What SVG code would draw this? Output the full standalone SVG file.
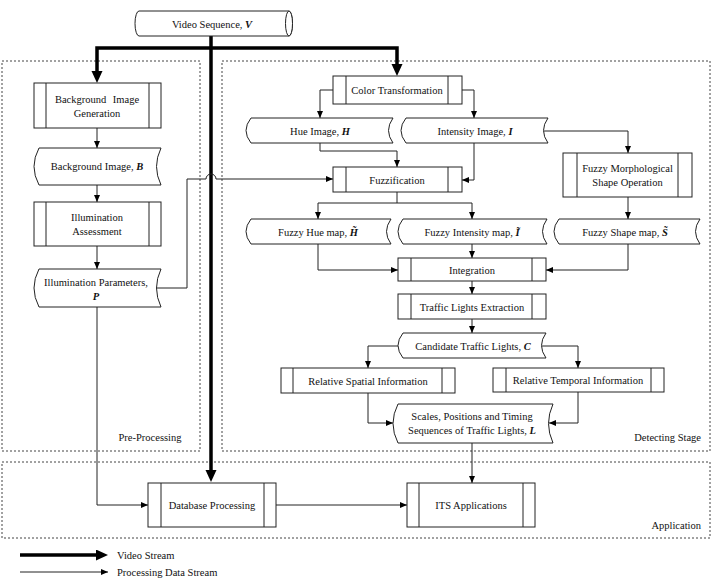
<svg xmlns="http://www.w3.org/2000/svg" width="715" height="580" viewBox="0 0 715 580">
<style>
  text { font-family: "Liberation Serif", "Times New Roman", serif; font-size: 10.5px; fill: #111; text-anchor: middle; }
  .v { font-weight: bold; font-style: italic; }
  .lbl { text-anchor: start; }
  .box, .doc, .cyl { fill: #fff; stroke: #222; stroke-width: 1; }
  .inner { stroke: #222; stroke-width: 1; }
  .region { fill: none; stroke: #444; stroke-width: 1; stroke-dasharray: 2 2; }
  .thin { fill: none; stroke: #222; stroke-width: 1; marker-end: url(#ah); }
  .thick { fill: none; stroke: #000; stroke-width: 3.5; }
</style>
<defs>
  <marker id="ah" markerUnits="userSpaceOnUse" markerWidth="8" markerHeight="7" refX="7" refY="3" orient="auto">
    <path d="M0,0 L7,3 L0,6 z" fill="#000"/>
  </marker>
  <marker id="big" markerUnits="userSpaceOnUse" markerWidth="14" markerHeight="12" refX="1" refY="5.5" orient="auto">
    <path d="M0,0 L12,5.5 L0,11 z" fill="#000"/>
  </marker>
</defs>
<rect width="715" height="580" fill="#fff"/>

<g id="regions">
  <rect class="region" x="2" y="61" width="198" height="390"/>
  <rect class="region" x="222" y="61" width="488" height="390"/>
  <rect class="region" x="2" y="462" width="708" height="76"/>
  <text x="150" y="441">Pre-Processing</text>
  <text x="701" y="441" style="text-anchor:end">Detecting Stage</text>
  <text x="701" y="529" style="text-anchor:end">Application</text>
</g>

<g id="connectors">
  <path class="thick" d="M211,36 V471" marker-end="url(#big)"/>
  <path class="thick" d="M211,48 H97 V72" marker-end="url(#big)"/>
  <path class="thick" d="M211,48 H397 V65" marker-end="url(#big)"/>
  <path class="thin" d="M97,128 V148"/>
  <path class="thin" d="M97,185 V202"/>
  <path class="thin" d="M97,246 V269"/>
  <path class="thin" d="M157,288 H187 V179 H206 a5,5 0 0 1 10,0 H333"/>
  <path class="thin" d="M97,307 V505 H148"/>
  <path class="thin" d="M333,90 H320 V118"/>
  <path class="thin" d="M462,90 H474 V118"/>
  <path class="thin" d="M320,143 V151 H397 V167"/>
  <path class="thin" d="M474,143 V180 H462"/>
  <path class="thin" d="M544,131 H628 V153"/>
  <path class="thin" d="M628,197 V219"/>
  <path class="thin" d="M397,192 V203 H318 V219"/>
  <path class="thin" d="M397,203 H472 V219"/>
  <path class="thin" d="M318,244 V270 H398"/>
  <path class="thin" d="M472,244 V258"/>
  <path class="thin" d="M628,244 V270 H546"/>
  <path class="thin" d="M472,281 V294"/>
  <path class="thin" d="M472,319 V333"/>
  <path class="thin" d="M398,346 H368 V368"/>
  <path class="thin" d="M542,346 H578 V368"/>
  <path class="thin" d="M368,393 V423 H393"/>
  <path class="thin" d="M578,392 V423 H549"/>
  <path class="thin" d="M472,443 V483"/>
  <path class="thin" d="M276,505 H407"/>
</g>

<g id="video-sequence">
  <path class="cyl" d="M139,11 H289 A3.5,12.5 0 0 1 289,36 H139 A4,12.5 0 0 1 139,11 Z"/>
  <ellipse class="cyl" cx="289" cy="23.5" rx="3.5" ry="12.5"/>
  <text x="212" y="27.5">Video Sequence, <tspan class="v">V</tspan></text>
</g>

<g id="bg-gen">
  <rect class="box" x="34" y="83" width="127" height="45"/>
  <line class="inner" x1="46" y1="83" x2="46" y2="128"/><line class="inner" x1="149" y1="83" x2="149" y2="128"/>
  <text x="97" y="103" word-spacing="4">Background Image</text>
  <text x="97" y="117">Generation</text>
</g>

<g id="bg-image">
  <path class="doc" d="M39,148 H161 Q152,166.5 161,185 H39 Q29,166.5 39,148 Z"/>
  <text x="97" y="170">Background Image, <tspan class="v">B</tspan></text>
</g>

<g id="illum-assess">
  <rect class="box" x="34" y="202" width="127" height="44"/>
  <line class="inner" x1="46" y1="202" x2="46" y2="246"/><line class="inner" x1="149" y1="202" x2="149" y2="246"/>
  <text x="97" y="221">Illumination</text>
  <text x="97" y="235">Assessment</text>
</g>

<g id="illum-params">
  <path class="doc" d="M39,269 H161 Q152,288 161,307 H39 Q29,288 39,269 Z"/>
  <text x="96" y="286">Illumination Parameters,</text>
  <text x="96" y="300" class="v">P</text>
</g>

<g id="color-transform">
  <rect class="box" x="333" y="76" width="129" height="28"/>
  <line class="inner" x1="346" y1="76" x2="346" y2="104"/><line class="inner" x1="448" y1="76" x2="448" y2="104"/>
  <text x="397" y="94">Color Transformation</text>
</g>

<g id="hue-image">
  <path class="doc" d="M251,118 H393 Q384,130.5 393,143 H251 Q241,130.5 251,118 Z"/>
  <text x="320" y="134.5">Hue Image, <tspan class="v">H</tspan></text>
</g>

<g id="intensity-image">
  <path class="doc" d="M406,118 H548 Q539,130.5 548,143 H406 Q396,130.5 406,118 Z"/>
  <text x="475" y="134.5">Intensity Image, <tspan class="v">I</tspan></text>
</g>

<g id="fuzzification">
  <rect class="box" x="333" y="167" width="129" height="25"/>
  <line class="inner" x1="346" y1="167" x2="346" y2="192"/><line class="inner" x1="448" y1="167" x2="448" y2="192"/>
  <text x="397" y="183.5">Fuzzification</text>
</g>

<g id="fuzzy-morph">
  <rect class="box" x="563" y="153" width="129" height="44"/>
  <line class="inner" x1="577" y1="153" x2="577" y2="197"/><line class="inner" x1="678" y1="153" x2="678" y2="197"/>
  <text x="627.5" y="172">Fuzzy Morphological</text>
  <text x="627.5" y="186">Shape Operation</text>
</g>

<g id="fuzzy-hue">
  <path class="doc" d="M251,219 H391 Q382,231.5 391,244 H251 Q241,231.5 251,219 Z"/>
  <text x="318" y="235.5">Fuzzy Hue map, <tspan class="v">H̃</tspan></text>
</g>

<g id="fuzzy-intensity">
  <path class="doc" d="M403,219 H547 Q538,231.5 547,244 H403 Q393,231.5 403,219 Z"/>
  <text x="472" y="235.5">Fuzzy Intensity map, <tspan class="v">Ĩ</tspan></text>
</g>

<g id="fuzzy-shape">
  <path class="doc" d="M559,219 H700 Q691,231.5 700,244 H559 Q549,231.5 559,219 Z"/>
  <text x="625" y="235.5">Fuzzy Shape map, <tspan class="v">S̃</tspan></text>
</g>

<g id="integration">
  <rect class="box" x="398" y="258" width="148" height="23"/>
  <line class="inner" x1="411" y1="258" x2="411" y2="281"/><line class="inner" x1="532" y1="258" x2="532" y2="281"/>
  <text x="472" y="273.5">Integration</text>
</g>

<g id="tl-extraction">
  <rect class="box" x="398" y="294" width="148" height="25"/>
  <line class="inner" x1="411" y1="294" x2="411" y2="319"/><line class="inner" x1="532" y1="294" x2="532" y2="319"/>
  <text x="472" y="310.5">Traffic Lights Extraction</text>
</g>

<g id="candidate">
  <path class="doc" d="M403,333 H546 Q537,345.5 546,358 H403 Q393,345.5 403,333 Z"/>
  <text x="473" y="349.5">Candidate Traffic Lights, <tspan class="v">C</tspan></text>
</g>

<g id="rel-spatial">
  <rect class="box" x="281" y="368" width="174" height="25"/>
  <line class="inner" x1="293" y1="368" x2="293" y2="393"/><line class="inner" x1="442" y1="368" x2="442" y2="393"/>
  <text x="368" y="384.5">Relative Spatial Information</text>
</g>

<g id="rel-temporal">
  <rect class="box" x="493" y="368" width="171" height="24"/>
  <line class="inner" x1="506" y1="368" x2="506" y2="392"/><line class="inner" x1="651" y1="368" x2="651" y2="392"/>
  <text x="578" y="384">Relative Temporal Information</text>
</g>

<g id="scales">
  <path class="doc" d="M398,404 H553 Q544,423.5 553,443 H398 Q388,423.5 398,404 Z"/>
  <text x="472" y="420">Scales, Positions and Timing</text>
  <text x="472" y="434">Sequences of Traffic Lights, <tspan class="v">L</tspan></text>
</g>

<g id="database">
  <rect class="box" x="148" y="483" width="128" height="44"/>
  <line class="inner" x1="161" y1="483" x2="161" y2="527"/><line class="inner" x1="264" y1="483" x2="264" y2="527"/>
  <text x="212" y="509">Database Processing</text>
</g>

<g id="its">
  <rect class="box" x="407" y="483" width="128" height="44"/>
  <line class="inner" x1="419" y1="483" x2="419" y2="527"/><line class="inner" x1="523" y1="483" x2="523" y2="527"/>
  <text x="471" y="509">ITS Applications</text>
</g>

<g id="legend">
  <path class="thick" d="M20,555 H97" marker-end="url(#big)"/>
  <text class="lbl" x="117" y="559">Video Stream</text>
  <path class="thin" d="M20,572 H108"/>
  <text class="lbl" x="117" y="576">Processing Data Stream</text>
</g>
</svg>
